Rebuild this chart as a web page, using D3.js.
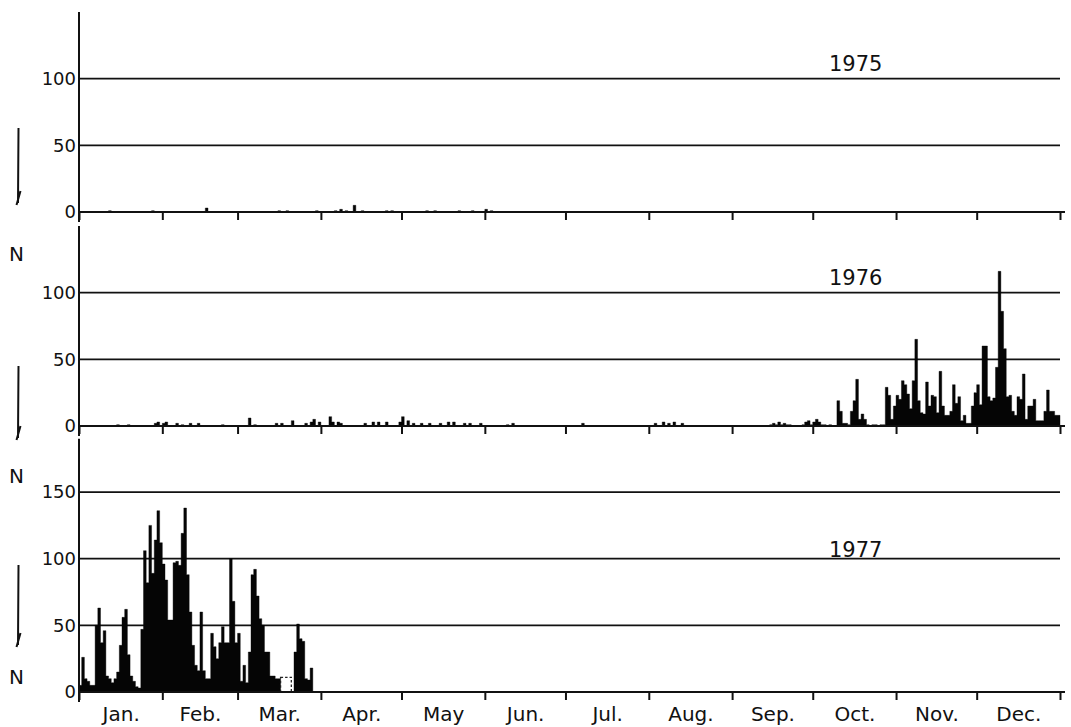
<!DOCTYPE html>
<html lang="en">
<head>
<meta charset="utf-8">
<title>Daily N, 1975-1977</title>
<script src="https://cdn.jsdelivr.net/npm/d3@7"></script>
<style>
  body { margin: 0; background: #fff; }
  svg { display: block; }
  text { font-family: "DejaVu Sans", sans-serif; fill: #111; }
</style>
</head>
<body>
<script>
// month boundaries (day of year) and the labels under the bottom panel
var month_starts = [0, 31, 59, 90, 120, 151, 181, 212, 243, 273, 304, 334, 365];
var month_names = ["Jan.", "Feb.", "Mar.", "Apr.", "May", "Jun.", "Jul.", "Aug.", "Sep.", "Oct.", "Nov.", "Dec."];

// 1975: only a handful of tiny counts
var blip_days_1975 = [11, 27, 47, 74, 77, 88, 95, 97, 99, 102, 105, 114, 116, 129, 132, 141, 146, 151, 153];
var blip_vals_1975 = [1, 1, 3, 1, 1, 1, 1, 2, 1, 5, 1, 1, 1, 1, 1, 1, 1, 2, 1];

// 1976: scattered small counts in spring/summer ...
var blip_days_1976 = [14, 18, 28, 29, 31, 32, 36, 38, 41, 44,
                      53, 63, 65, 73, 75, 79, 84, 86, 87, 89,
                      93, 94, 96, 97, 106, 109, 111, 114, 119, 120,
                      122, 124, 127, 130, 134, 137, 139, 143, 145, 149,
                      159, 161, 187, 214, 217, 219, 221, 224];
var blip_vals_1976 = [1, 1, 2, 3, 2, 3, 2, 1, 2, 2,
                      1, 6, 1, 2, 2, 4, 2, 3, 5, 3,
                      7, 3, 3, 2, 2, 3, 3, 3, 3, 7,
                      4, 2, 2, 2, 2, 3, 3, 2, 2, 2,
                      1, 2, 2, 2, 3, 2, 3, 2];
// ... then daily counts from day 256 to the end of the year
var start_1976 = 256;
var daily_1976 = [0, 1, 2, 1, 3, 1, 2, 1, 1, 0,
                  0, 0, 0, 1, 3, 4, 1, 3, 5, 3,
                  1, 1, 0, 1, 0, 0, 19, 11, 2, 2,
                  1, 11, 19, 35, 5, 9, 5, 1, 0, 1,
                  1, 0, 1, 1, 29, 23, 5, 15, 23, 20,
                  34, 31, 24, 13, 34, 65, 19, 10, 9, 33,
                  15, 23, 22, 10, 41, 15, 8, 8, 11, 31,
                  17, 22, 4, 8, 2, 2, 15, 25, 31, 16,
                  60, 60, 22, 19, 21, 44, 116, 86, 58, 22,
                  23, 11, 8, 22, 20, 39, 5, 15, 15, 20,
                  4, 4, 4, 11, 27, 11, 11, 8, 8];

// 1977: daily counts from Jan 1
var start_1977 = 0;
var daily_1977 = [5, 26, 10, 8, 5, 5, 50, 63, 37, 46,
                  12, 10, 7, 10, 15, 35, 56, 62, 28, 12,
                  8, 4, 3, 47, 106, 82, 125, 89, 114, 136,
                  112, 96, 84, 54, 54, 97, 98, 95, 119, 138,
                  88, 60, 35, 20, 16, 60, 16, 10, 10, 44,
                  34, 25, 37, 49, 37, 37, 100, 68, 37, 44,
                  8, 20, 7, 30, 88, 92, 72, 55, 50, 30,
                  30, 12, 12, 10, 10, 0, 0, 0, 0, 0,
                  30, 51, 40, 38, 10, 9, 18];
// days with no record, drawn as a dashed box
var gap_days_1977 = [75, 79];
var gap_value_1977 = 11;

var y_ticks_short = [0, 50, 100];
var y_ticks_tall = [0, 50, 100, 150];

// spread blips and daily runs over a full year of days (zero elsewhere)
function full_year(days, vals, start, daily) {
  var out = d3.range(366).map(function(i) { return {day: i, value: 0}; });
  (days || []).forEach(function(d, i) { out[d].value = vals[i]; });
  (daily || []).forEach(function(v, i) { out[start + i].value = v; });
  return out;
}

var width = 1071, height = 727;
var px_per_unit = 1.333;

var panels = [
  {year: "1975", base: 212, top: 150, ticks: y_ticks_short, label_value: 106,
   series: full_year(blip_days_1975, blip_vals_1975),
   arrow: [128, 205], n_y: 261},
  {year: "1976", base: 426, top: 150, ticks: y_ticks_short, label_value: 106,
   series: full_year(blip_days_1976, blip_vals_1976, start_1976, daily_1976),
   arrow: [366, 440], n_y: 483},
  {year: "1977", base: 692, top: 190, ticks: y_ticks_tall, label_value: 101,
   series: full_year(null, null, start_1977, daily_1977),
   arrow: [565, 647], n_y: 684}
];

var svg = d3.select("body").append("svg")
  .attr("width", width)
  .attr("height", height);

svg.append("rect").attr("width", width).attr("height", height).attr("fill", "#fff");

var x = d3.scaleLinear().domain([0, 365]).range([79, 1060]);

panels.forEach(function(p, k) {
  var y = d3.scaleLinear().domain([0, p.top]).range([p.base, p.base - p.top * px_per_unit]);
  var g = svg.append("g");

  // gridlines at the labelled values (not 0, the baseline is drawn below)
  g.selectAll("line.grid")
    .data(p.ticks.filter(function(t) { return t > 0; }))
    .join("line")
    .attr("class", "grid")
    .attr("x1", x(0)).attr("x2", x(365))
    .attr("y1", function(d) { return y(d); })
    .attr("y2", function(d) { return y(d); })
    .attr("stroke", "#111").attr("stroke-width", 1.8);

  // daily counts as one stepped area so touching days form a solid block
  var area = d3.area()
    .x(function(d) { return x(d.day); })
    .y0(p.base)
    .y1(function(d) { return y(d.value); })
    .curve(d3.curveStepAfter);
  g.append("path")
    .datum(p.series)
    .attr("d", area)
    .attr("fill", "#050505")
    .attr("stroke", "#050505")
    .attr("stroke-width", 0.4);

  // missing days in 1977
  if (p.year === "1977") {
    g.append("rect")
      .attr("x", x(gap_days_1977[0]))
      .attr("width", x(gap_days_1977[1]) - x(gap_days_1977[0]))
      .attr("y", y(gap_value_1977))
      .attr("height", p.base - y(gap_value_1977))
      .attr("fill", "none")
      .attr("stroke", "#222")
      .attr("stroke-width", 1.3)
      .attr("stroke-dasharray", "2.5,2");
  }

  // baseline with month ticks hanging below it
  var x_axis = d3.axisBottom(x).tickValues(month_starts).tickSize(8).tickFormat("");
  var xa = g.append("g").attr("transform", "translate(0," + p.base + ")").call(x_axis);
  xa.select(".domain").remove();
  xa.selectAll(".tick line").attr("stroke", "#111").attr("stroke-width", 2);
  g.append("line")
    .attr("x1", x(0)).attr("x2", x(365) + 5)
    .attr("y1", p.base).attr("y2", p.base)
    .attr("stroke", "#111").attr("stroke-width", 2);

  // vertical axis and its labels
  g.append("line")
    .attr("x1", x(0)).attr("x2", x(0))
    .attr("y1", y(p.top)).attr("y2", p.base + 10)
    .attr("stroke", "#111").attr("stroke-width", 2);
  var y_axis = d3.axisLeft(y).tickValues(p.ticks).tickSize(0).tickPadding(3).tickFormat(d3.format("d"));
  var ya = g.append("g").attr("transform", "translate(" + x(0) + ",0)").call(y_axis);
  ya.select(".domain").remove();
  ya.selectAll("text")
    .attr("font-family", "DejaVu Sans, sans-serif")
    .attr("font-size", 18)
    .attr("fill", "#111");

  // year label
  g.append("text")
    .attr("x", 829)
    .attr("y", y(p.label_value))
    .attr("font-size", 21)
    .text(p.year);

  // the down arrow and N on the left margin
  var a = p.arrow;
  g.append("path")
    .attr("d", "M18.5," + a[0] + "L18," + (a[1] - 2) + "M16.5," + a[1] + "L20.5," + (a[1] - 14))
    .attr("fill", "none")
    .attr("stroke", "#111")
    .attr("stroke-width", 2);
  g.append("text")
    .attr("x", 9)
    .attr("y", p.n_y)
    .attr("font-size", 20)
    .text("N");
});

// month names under the bottom panel, centred in each month
var mids = month_names.map(function(m, i) { return (month_starts[i] + month_starts[i + 1]) / 2; });
var month_axis = d3.axisBottom(x).tickValues(mids).tickSize(0).tickPadding(0)
  .tickFormat(function(d, i) { return month_names[i]; });
var ma = svg.append("g").attr("transform", "translate(0,705)").call(month_axis);
ma.select(".domain").remove();
ma.selectAll("text")
  .attr("font-family", "DejaVu Sans, sans-serif")
  .attr("font-size", 20)
  .attr("fill", "#111")
  .attr("dy", "0.8em");
</script>
</body>
</html>
